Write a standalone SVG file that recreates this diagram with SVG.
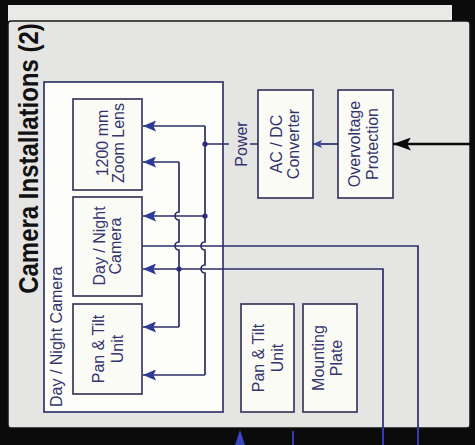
<svg xmlns="http://www.w3.org/2000/svg" width="475" height="445" viewBox="0 0 475 445">
  <defs>
    <style>
      .box { fill: #fbfbf6; stroke: #3a3a5e; stroke-width: 1.7; }
      .grp { fill: #fdfdf9; stroke: #35356a; stroke-width: 1.7; }
      .lbl { font-family: "Liberation Sans", Arial, sans-serif; font-size: 16px; fill: #34346e; text-anchor: middle; }
      .wire { fill: none; stroke: #2c2c6a; stroke-width: 1.7; }
      .dot { fill: #2c2c7a; }
    </style>
    <marker id="ah" viewBox="0 0 13 11" refX="13" refY="5.5" markerWidth="13" markerHeight="11" markerUnits="userSpaceOnUse" orient="auto">
      <path d="M0,0 L13,5.5 L0,11 L2.5,5.5 z" fill="#2e3a96"/>
    </marker>
    <marker id="ahs" viewBox="0 0 9 8" refX="9" refY="4" markerWidth="9" markerHeight="8" markerUnits="userSpaceOnUse" orient="auto">
      <path d="M0,0 L9,4 L0,8 L2,4 z" fill="#3a4aa0"/>
    </marker>
    <marker id="ahb" viewBox="0 0 18 13" refX="18" refY="6.5" markerWidth="18" markerHeight="13" markerUnits="userSpaceOnUse" orient="auto">
      <path d="M0,0 L18,6.5 L0,13 L4,6.5 z" fill="#0a0a0a"/>
    </marker>
  </defs>

  <!-- background -->
  <rect x="0" y="0" width="475" height="445" fill="#0b0b0b"/>
  <rect x="8" y="5" width="444" height="17" fill="#e9e9e7"/>
  <rect x="8" y="21" width="462" height="407" rx="3" fill="#e5e5e3" stroke="#141414" stroke-width="1.5"/>

  <!-- title -->
  <text transform="translate(38,158.5) scale(1.15,1) rotate(-90)" font-family="'Liberation Sans', Arial, sans-serif" font-size="24" font-weight="bold" fill="#111111" text-anchor="middle">Camera Installations (2)</text>

  <!-- group box -->
  <g id="group-day-night-camera">
    <rect class="grp" x="44" y="82" width="179" height="330"/>
    <text transform="translate(62,407) rotate(-90)" font-family="'Liberation Sans', Arial, sans-serif" font-size="16" fill="#34346e">Day / Night Camera</text>
  </g>

  <g id="node-zoom-lens">
    <rect class="box" x="73" y="99" width="69" height="91"/>
    <text class="lbl" transform="translate(108,143) rotate(-90)">1200 mm</text>
    <text class="lbl" transform="translate(124,143) rotate(-90)">Zoom Lens</text>
  </g>

  <g id="node-day-night-camera">
    <rect class="box" x="73" y="197" width="69" height="99"/>
    <text class="lbl" transform="translate(105,246) rotate(-90)">Day / Night</text>
    <text class="lbl" transform="translate(121,246) rotate(-90)">Camera</text>
  </g>

  <g id="node-pan-tilt-inner">
    <rect class="box" x="73" y="304" width="69" height="90"/>
    <text class="lbl" transform="translate(104,349) rotate(-90)">Pan &amp; Tilt</text>
    <text class="lbl" transform="translate(123,349) rotate(-90)">Unit</text>
  </g>

  <g id="node-pan-tilt">
    <rect class="box" x="241" y="304" width="53" height="108"/>
    <text class="lbl" transform="translate(264,358) rotate(-90)">Pan &amp; Tilt</text>
    <text class="lbl" transform="translate(283,358) rotate(-90)">Unit</text>
  </g>

  <g id="node-mounting-plate">
    <rect class="box" x="303" y="304" width="54" height="108"/>
    <text class="lbl" transform="translate(324,358) rotate(-90)">Mounting</text>
    <text class="lbl" transform="translate(342,358) rotate(-90)">Plate</text>
  </g>

  <g id="node-acdc">
    <rect class="box" x="258" y="90" width="55" height="108"/>
    <text class="lbl" transform="translate(282,144) rotate(-90)">AC / DC</text>
    <text class="lbl" transform="translate(299,144) rotate(-90)">Converter</text>
  </g>

  <g id="node-overvoltage">
    <rect class="box" x="338" y="90" width="55" height="108"/>
    <text class="lbl" transform="translate(360,144) rotate(-90)">Overvoltage</text>
    <text class="lbl" transform="translate(378,144) rotate(-90)">Protection</text>
  </g>

  <g id="connectors">
    <!-- power bus x=205 -->
    <path class="wire" d="M205,126 V242 A4,4 0 0 0 205,250 V265 A4,4 0 0 0 205,273 V375"/>
    <path class="wire" d="M205,126 H143" marker-end="url(#ah)"/>
    <path class="wire" d="M205,216 H143" marker-end="url(#ah)"/>
    <path class="wire" d="M205,375 H143" marker-end="url(#ah)"/>
    <!-- control bus x=179 -->
    <path class="wire" d="M179,162 V212 A4,4 0 0 0 179,220 V242 A4,4 0 0 0 179,250 V327"/>
    <path class="wire" d="M179,162 H143" marker-end="url(#ah)"/>
    <path class="wire" d="M179,327 H143" marker-end="url(#ah)"/>
    <!-- control input from right -->
    <path class="wire" d="M383,428 V269 H143" marker-end="url(#ah)"/>
    <!-- video output to right -->
    <path class="wire" d="M142,246 H418 V428"/>
    <!-- power from converter -->
    <path class="wire" d="M258,144 H205"/>
    <rect x="229" y="120" width="21" height="49" fill="#e5e5e3"/>
    <text class="lbl" transform="translate(247,144) rotate(-90)">Power</text>
    <!-- overvoltage to converter -->
    <path class="wire" d="M338,144 H313" marker-end="url(#ahs)"/>
    <!-- incoming mains -->
    <path d="M475,144 H393" fill="none" stroke="#0a0a0a" stroke-width="2.6" marker-end="url(#ahb)"/>
    <!-- junction dots -->
    <circle class="dot" cx="205" cy="144" r="2.6"/>
    <circle class="dot" cx="205" cy="216" r="2.6"/>
    <circle class="dot" cx="179" cy="269" r="2.6"/>
    <!-- continuation below panel -->
    <path d="M383,428 V445 M418,428 V445 M293,431 V445" fill="none" stroke="#3a3ab4" stroke-width="2"/>
    <path d="M240,430 L245,445 L235,445 z" fill="#3a46c0"/>
  </g>
</svg>
